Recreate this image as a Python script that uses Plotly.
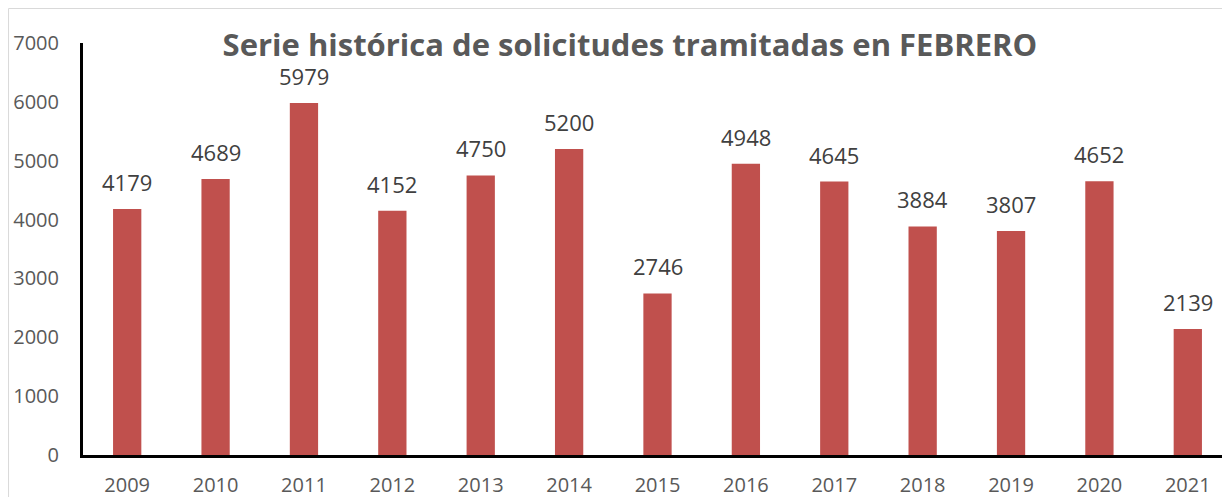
import plotly.graph_objects as go

# datos de la serie historica (febrero)
anios = ['2009', '2010', '2011', '2012', '2013', '2014', '2015',
         '2016', '2017', '2018', '2019', '2020', '2021']
solicitudes = [4179, 4689, 5979, 4152, 4750, 5200, 2746,
               4948, 4645, 3884, 3807, 4652, 2139]
ticks_y = [0, 1000, 2000, 3000, 4000, 5000, 6000, 7000]

fig = go.Figure(go.Bar(
    x=anios,
    y=solicitudes,
    marker=dict(color='#C0504D', line=dict(width=0)),
    width=0.32,
))

# etiquetas encima de las barras (x por indice de categoria)
for i, v in enumerate(solicitudes):
    fig.add_annotation(x=i, y=v, text=str(v), showarrow=False,
                       yshift=27, font=dict(size=22, color='#404040'))

# borde del area del grafico
fig.add_shape(type='rect', xref='paper', yref='paper',
              x0=-0.0648, x1=1.2, y0=-0.3, y1=1.0837,
              line=dict(color='#D9D9D9', width=1))

fig.update_layout(
    width=1230,
    height=497,
    margin=dict(l=75, r=6, t=35, b=50),
    plot_bgcolor='white',
    paper_bgcolor='white',
    font=dict(family='Open Sans, sans-serif', color='#595959'),
    title=dict(text='<b>Serie histórica de solicitudes tramitadas en FEBRERO</b>',
               x=0.476, xref='paper', xanchor='center',
               y=0.9256, yanchor='middle',
               font=dict(size=31, color='#595959')),
    showlegend=False,
)
fig.update_xaxes(
    type='category',
    range=[-0.5, 12.5],
    showline=True, linecolor='black', linewidth=3,
    ticks='', tickfont=dict(size=20, color='#595959'),
    ticklabelstandoff=10,
)
fig.update_yaxes(
    range=[0, 7000],
    tickvals=ticks_y,
    showgrid=False, zeroline=False,
    showline=True, linecolor='black', linewidth=3,
    ticks='', tickfont=dict(size=20, color='#595959'),
    ticklabelstandoff=17,
)

fig.write_html("out.html")
